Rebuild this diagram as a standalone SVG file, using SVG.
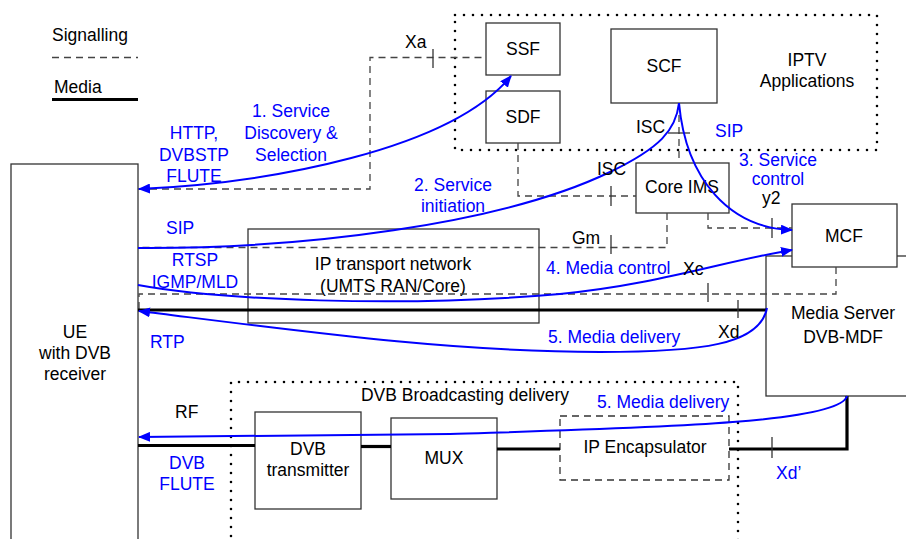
<svg xmlns="http://www.w3.org/2000/svg" width="906" height="539" viewBox="0 0 906 539">
<defs>
<style>
text{font-family:"Liberation Sans",Arial,sans-serif;font-size:17.5px;fill:#000}
.c{text-anchor:middle}
.b{fill:#0000ff}
.box{fill:#fff;stroke:#333;stroke-width:1.3}
.dbox{fill:#fff;stroke:#333;stroke-width:1.3;stroke-dasharray:7 5}
.dot{fill:none;stroke:#000;stroke-width:2.6;stroke-linecap:round;stroke-dasharray:0 9}
.sig{fill:none;stroke:#444;stroke-width:1.3;stroke-dasharray:7 5}
.med{fill:none;stroke:#000;stroke-width:3.2}
.tick{stroke:#333;stroke-width:1.3}
.bl{fill:none;stroke:#0000ff;stroke-width:2}
</style>
<marker id="ah" viewBox="0 0 12 10" refX="11" refY="5" markerWidth="12" markerHeight="10" markerUnits="userSpaceOnUse" orient="auto-start-reverse">
<path d="M0,0 L12,5 L0,10 Z" fill="#0000ff"/>
</marker>
</defs>

<g id="legend">
<text x="52" y="41">Signalling</text>
<line class="sig" x1="52" y1="57.5" x2="138" y2="57.5"/>
<text x="54" y="93">Media</text>
<line class="med" x1="52" y1="99.5" x2="138" y2="99.5"/>
</g>

<g id="iptv-apps">
<rect class="dot" x="455" y="15" width="422" height="135"/>
<text class="c" x="807" y="66">IPTV</text>
<text class="c" x="807" y="87">Applications</text>
</g>

<g id="dvb-broadcast">
<path class="dot" d="M231,545 L231,382 L738,382 L738,545"/>
<text class="c" x="465" y="401">DVB Broadcasting delivery</text>
</g>

<g id="media-server">
<rect class="box" x="766" y="256" width="150" height="140"/>
<text class="c" x="843" y="319">Media Server</text>
<text class="c" x="843" y="343">DVB-MDF</text>
</g>

<g id="ue">
<rect class="box" x="11" y="164" width="127" height="390"/>
<text class="c" x="75" y="338">UE</text>
<text class="c" x="75" y="359">with DVB</text>
<text class="c" x="75" y="380">receiver</text>
</g>

<g id="ssf"><rect class="box" x="486" y="23" width="74" height="52"/><text class="c" x="523" y="55">SSF</text></g>
<g id="sdf"><rect class="box" x="486" y="91" width="74" height="52"/><text class="c" x="523" y="123">SDF</text></g>
<g id="scf"><rect class="box" x="611" y="29" width="106" height="74"/><text class="c" x="664" y="72">SCF</text></g>
<g id="core-ims"><rect class="box" x="636" y="163" width="93" height="50"/><text class="c" x="682" y="193">Core IMS</text></g>
<g id="mcf"><rect class="box" x="792" y="204" width="105" height="63"/><text class="c" x="844" y="242">MCF</text></g>
<g id="ip-transport">
<rect fill="none" stroke="#333" stroke-width="1.3" x="248" y="229" width="291" height="94"/>
<text class="c" x="393" y="270">IP transport network</text>
<text class="c" x="393" y="292">(UMTS RAN/Core)</text>
</g>
<g id="dvb-transmitter"><rect class="box" x="255" y="412" width="106" height="97"/><text class="c" x="308" y="455">DVB</text><text class="c" x="308" y="476">transmitter</text></g>
<g id="mux"><rect class="box" x="391" y="418" width="106" height="81"/><text class="c" x="444" y="464">MUX</text></g>
<g id="ip-encapsulator"><rect class="dbox" x="560" y="416" width="169" height="64"/><text class="c" x="645" y="453">IP Encapsulator</text></g>

<g id="connectors">
<!-- signalling -->
<path class="sig" d="M138,189 H370 V57.5 H486"/>
<path class="sig" d="M518,143 V196 H636"/>
<path class="sig" d="M679,103 V163"/>
<path class="sig" d="M708,213 V228 H792"/>
<path class="sig" d="M667,213 V247.5 H138"/>
<path class="sig" d="M836,267 V294 H139 V310"/>
<!-- media -->
<line class="med" x1="138" y1="310" x2="766" y2="310"/>
<line class="med" x1="138" y1="445.5" x2="255" y2="445.5"/>
<line class="med" x1="361" y1="446.5" x2="391" y2="446.5"/>
<line class="med" x1="497" y1="449" x2="560" y2="449"/>
<path class="med" d="M729,449 H847 V396"/>
<!-- ticks -->
<line class="tick" x1="433" y1="49" x2="433" y2="68"/>
<line class="tick" x1="668" y1="133" x2="690" y2="133"/>
<line class="tick" x1="611" y1="186" x2="611" y2="206"/>
<line class="tick" x1="772" y1="218" x2="772" y2="238"/>
<line class="tick" x1="611" y1="235" x2="611" y2="254"/>
<line class="tick" x1="708" y1="283" x2="708" y2="302"/>
<line class="tick" x1="738" y1="300" x2="738" y2="318"/>
<line class="tick" x1="772" y1="437" x2="772" y2="458"/>
<!-- blue flows -->
<path class="bl" d="M139,189 C270,183 450,150 511,76" marker-start="url(#ah)" marker-end="url(#ah)"/>
<path class="bl" d="M138,248 C300,249 500,225 610,172 C660,148 676,130 679,103"/>
<path class="bl" d="M679,103 C686,180 730,228 792,230" marker-end="url(#ah)"/>
<path class="bl" d="M138,285 C220,300 400,308 560,294 C660,284 720,262 792,250" marker-end="url(#ah)"/>
<path class="bl" d="M767,308 C760,345 700,352 600,352 C450,352 300,331 139,311" marker-end="url(#ah)"/>
<path class="bl" d="M847,396 C840,424 640,428 450,434 L139,437" marker-end="url(#ah)"/>
</g>

<g id="labels">
<text x="405" y="48">Xa</text>
<text x="636" y="133">ISC</text>
<text x="597" y="175">ISC</text>
<text x="762" y="204">y2</text>
<text x="572" y="244">Gm</text>
<text x="683" y="275">Xc</text>
<text x="718" y="338">Xd</text>
<text x="175" y="418">RF</text>
<text class="b" x="776" y="479">Xd’</text>
<text class="b c" x="291" y="117">1. Service</text>
<text class="b c" x="291" y="139">Discovery &amp;</text>
<text class="b c" x="291" y="161">Selection</text>
<text class="b c" x="194" y="139">HTTP,</text>
<text class="b c" x="194" y="161">DVBSTP</text>
<text class="b c" x="194" y="182">FLUTE</text>
<text class="b c" x="453" y="191">2. Service</text>
<text class="b c" x="453" y="212">initiation</text>
<text class="b" x="166" y="234">SIP</text>
<text class="b" x="715" y="137">SIP</text>
<text class="b c" x="778" y="166">3. Service</text>
<text class="b c" x="778" y="185">control</text>
<text class="b c" x="195" y="266">RTSP</text>
<text class="b c" x="195" y="288">IGMP/MLD</text>
<text class="b" x="546" y="274">4. Media control</text>
<text class="b" x="150" y="348">RTP</text>
<text class="b" x="548" y="343">5. Media delivery</text>
<text class="b" x="597" y="408">5. Media delivery</text>
<text class="b c" x="187" y="469">DVB</text>
<text class="b c" x="187" y="490">FLUTE</text>
</g>
</svg>
